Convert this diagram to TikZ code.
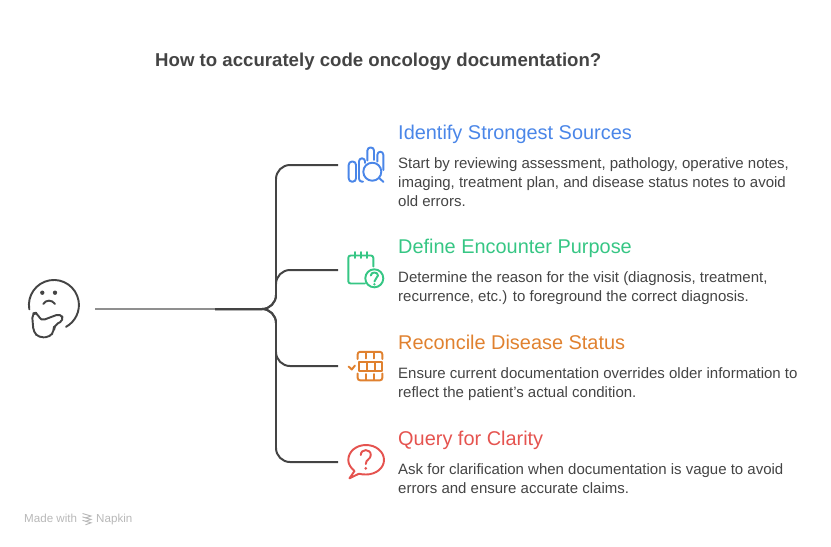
\documentclass[tikz,border=0pt]{standalone}
\usepackage{fontspec}
\setmainfont{Liberation Sans}
\definecolor{inkgray}{HTML}{444444}
\definecolor{stemgray}{HTML}{8F8F8F}
\definecolor{footgray}{HTML}{B8B8B8}
\definecolor{srcblue}{HTML}{4A86E8}
\definecolor{encgreen}{HTML}{36C684}
\definecolor{recorange}{HTML}{E0812F}
\definecolor{qryred}{HTML}{E5534F}
\begin{document}
\begin{tikzpicture}[
            x=0.03cm, y=-0.03cm,
            wire/.style={draw=inkgray, line width=1.7pt, rounded corners=0.42cm},
            icon/.style={line width=1.65pt, line cap=round, line join=round},
            title/.style={anchor=base west, inner sep=0pt, text=inkgray, font=\fontsize{15.9}{19}\selectfont\bfseries},
            heading/.style={anchor=base west, inner sep=0pt, font=\fontsize{17}{20}\selectfont},
            body/.style={anchor=north west, inner sep=0pt, align=left, text=inkgray, font=\fontsize{12.8}{16}\selectfont},
            foot/.style={anchor=base west, inner sep=0pt, text=footgray, font=\fontsize{9.9}{12}\selectfont}
        ]
            \useasboundingbox (0,0) rectangle (831,546);

            \node[title] (ttl) at (155,66) {How to accurately code oncology documentation?};

            % text column
            \node[heading, text=srcblue] (srchead) at (398,139) {Identify Strongest Sources};
            \node[body] (srcbody) at (398,157.5) {Start by reviewing assessment, pathology, operative notes,\\imaging, treatment plan, and disease status notes to avoid\\old errors.};
            \node[heading, text=encgreen] (enchead) at (398,253) {Define Encounter Purpose};
            \node[body] (encbody) at (398,271.5) {Determine the reason for the visit (diagnosis, treatment,\\recurrence, etc.) to foreground the correct diagnosis.};
            \node[heading, text=recorange] (rechead) at (398,349) {Reconcile Disease Status};
            \node[body] (recbody) at (398,367.5) {Ensure current documentation overrides older information to\\reflect the patient's actual condition.};
            \node[heading, text=qryred] (qryhead) at (398,445) {Query for Clarity};
            \node[body] (qrybody) at (398,463.5) {Ask for clarification when documentation is vague to avoid\\errors and ensure accurate claims.};

            % connectors
            \coordinate (stem) at (95,309);
            \coordinate (hub) at (215,309);
            \coordinate (spine) at (276,309);
            \coordinate (srcend) at (338,165);
            \coordinate (encend) at (338,270);
            \coordinate (recend) at (338,366);
            \coordinate (qryend) at (338,462);
            \draw[draw=stemgray, line width=1.7pt] (stem) -- (hub);
            \foreach \tip in {srcend, encend, recend, qryend}
                \draw[wire] (hub) -- (spine) |- (\tip);

            % thinking face
            \draw[icon, inkgray] (29.3,309.3) arc[start angle=190, end angle=-61, radius=0.75cm];
            \fill[inkgray] (42.3,292.7) circle[radius=0.065cm] (55,292.7) circle[radius=0.065cm];
            \draw[icon, inkgray] (43.3,304) .. controls (46,299.5) and (52,299.5) .. (55,304);
            \draw[icon, inkgray, rounded corners=0.13cm] (40.5,321) -- (37.5,312.5) -- (32,313.5) -- (33.5,332) -- (39,337.5) -- (50,337) -- (54,331) -- (54,325.5) -- (64,320) -- (60.5,313.5) -- cycle;

            % sources icon
            \draw[icon, srcblue, rounded corners=0.1cm] (348.7,161.5) rectangle (356,181.7);
            \draw[icon, srcblue, rounded corners=0.09cm] (363,181.7) -- (359,181.7) -- (359,158.3) -- (365,158.3) -- (365,163);
            \draw[icon, srcblue, rounded corners=0.09cm] (367.4,160.5) -- (367.4,147.5) -- (374,147.5) -- (374,160);
            \draw[icon, srcblue, rounded corners=0.09cm] (377.4,161.5) -- (377.4,151.7) -- (383.3,151.7) -- (383.3,170);
            \draw[icon, srcblue] (372.3,171.7) circle[radius=0.27cm];
            \draw[icon, srcblue] (379.2,178) -- (383.5,182);

            % calendar icon
            \draw[icon, encgreen, rounded corners=0.07cm] (365,283.5) -- (348.3,283.5) -- (348.3,255.5) -- (373.3,255.5) -- (373.3,266.5);
            \draw[icon, encgreen] (355,252) -- (355,258) (360.7,252) -- (360.7,258) (366.7,252) -- (366.7,258);
            \draw[icon, encgreen] (374.3,278.3) circle[radius=0.27cm];
            \draw[icon, encgreen] (370.8,275.5) .. controls (370.8,271.5) and (378,271.5) .. (378,275.5) .. controls (378,278.5) and (374.4,278) .. (374.4,281.5);
            \fill[encgreen] (374.4,284.3) circle[radius=0.04cm];

            % table icon
            \draw[icon, recorange, rounded corners=0.07cm] (357.7,359) -- (357.7,351.8) -- (382.3,351.8) -- (382.3,359);
            \draw[icon, recorange] (365.7,352) -- (365.7,358.5) (374.3,352) -- (374.3,358.5);
            \draw[icon, recorange] (359.3,362.3) rectangle (382.3,370.7);
            \draw[icon, recorange] (366.7,362.3) -- (366.7,370.7) (375,362.3) -- (375,370.7);
            \draw[icon, recorange, rounded corners=0.07cm] (357.7,373.5) -- (357.7,380.3) -- (382.3,380.3) -- (382.3,373.5);
            \draw[icon, recorange] (365.7,374) -- (365.7,380) (374.3,374) -- (374.3,380);
            \draw[icon, recorange] (348.6,366.5) -- (351.8,369.5) -- (355,365.5);

            % bubble icon
            \draw[icon, qryred] (354.5,471) .. controls (350.5,467.5) and (348.3,464) .. (348.3,460) .. controls (348.3,451.7) and (356,445) .. (366,445) .. controls (376,445) and (384,451.7) .. (384,460) .. controls (384,468) and (376,474.5) .. (366,474.5) .. controls (363,474.5) and (361,474.3) .. (359,473.7) -- (349.5,478.3) -- cycle;
            \draw[icon, qryred] (360.8,455) .. controls (360.8,448.5) and (370.8,448.5) .. (370.8,455) .. controls (370.8,459.5) and (365.8,459) .. (365.8,464);
            \fill[qryred] (365.8,468.3) circle[radius=0.045cm];

            % footer
            \node[foot] (made) at (24,522) {Made with};
            \node[foot] (napkin) at (96,522) {Napkin};
            \foreach \dy in {0,3.4,6.8}
                \draw[draw=footgray, line width=0.8pt] (82.5,513.5+\dy) -- (91,516+\dy) -- (85.5,518+\dy);
        \end{tikzpicture}
\end{document}
